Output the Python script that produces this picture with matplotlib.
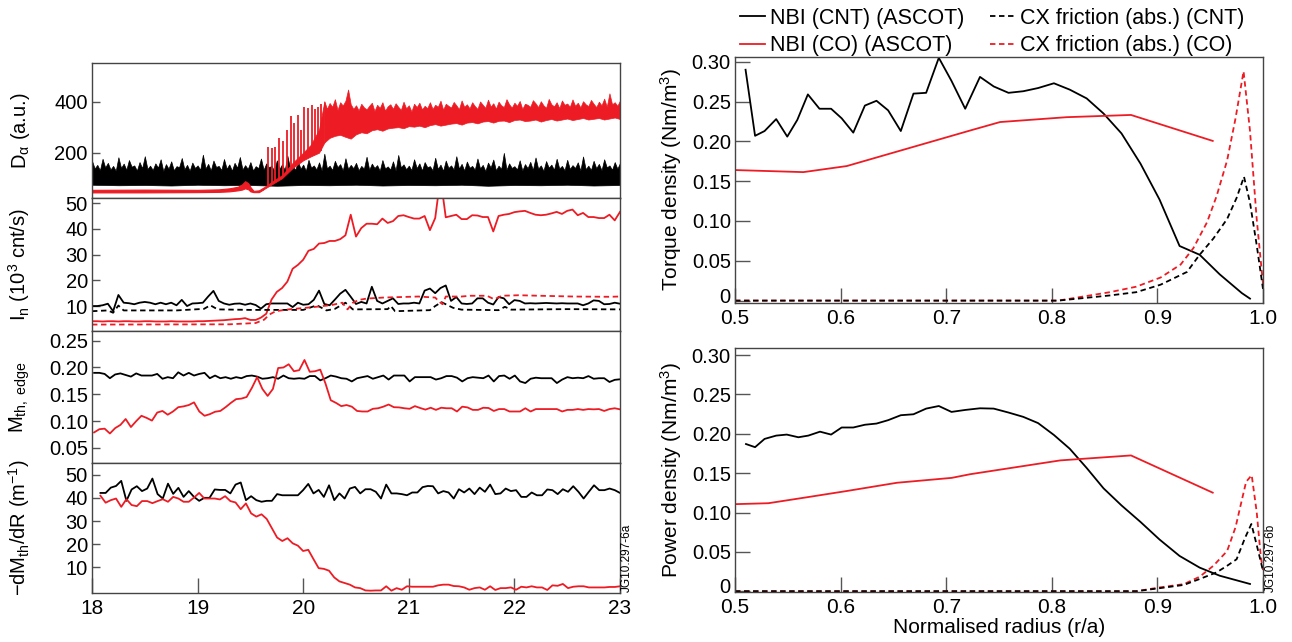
import matplotlib
matplotlib.use("Agg")
import matplotlib.pyplot as plt
import matplotlib.transforms as mtransforms
import numpy as np

plt.rcParams['font.family'] = ['Liberation Sans', 'DejaVu Sans']
plt.rcParams['mathtext.fontset'] = 'custom'
plt.rcParams['mathtext.rm'] = 'Liberation Sans'
plt.rcParams['mathtext.it'] = 'Liberation Sans:italic'

RED = '#ed1c24'
DASH = (0, (3, 2))

######### Left: time traces (s) #########
# D-alpha, black (CNT): dense noise band, upper edge sampled every 0.025 s
da_cnt_upper = [
    168, 138, 152, 131, 176, 142, 160, 134, 148, 129, 182, 140, 157, 133, 171, 145, 150, 130, 163, 139,
    186, 136, 149, 132, 158, 141, 174, 128, 155, 137, 166, 131, 147, 143, 179, 135, 152, 129, 161, 140,
    150, 133, 192, 138, 156, 130, 169, 144, 148, 132, 175, 137, 154, 129, 160, 141, 183, 134, 151, 136,
    163, 130, 147, 139, 177, 133, 158, 142, 149, 128, 170, 136, 155, 131, 188, 140, 146, 133, 165, 137,
    153, 129, 172, 141, 150, 134, 162, 130, 196, 138, 149, 132, 168, 143, 155, 130, 178, 136, 152, 139,
    160, 131, 148, 137, 184, 133, 157, 140, 151, 129, 171, 138, 146, 134, 166, 130, 191, 142, 154, 135,
    149, 132, 174, 139, 158, 130, 163, 143, 147, 131, 180, 136, 153, 129, 169, 140, 150, 134, 186, 137,
    156, 130, 165, 141, 148, 133, 177, 138, 152, 128, 161, 142, 173, 131, 149, 136, 199, 133, 158, 140,
    147, 134, 170, 130, 155, 139, 164, 132, 181, 137, 150, 129, 167, 141, 153, 133, 176, 138, 148, 131,
    172, 136, 151, 140, 162, 130, 185, 135, 149, 132, 168, 139, 156, 131, 174, 142, 150, 133, 163, 137,
    160]
da_cnt_lower = [74, 72, 73, 71, 74, 72, 73, 70, 73, 72, 74, 71, 73, 72, 74, 70, 73, 72, 74, 71, 73]

# D-alpha, red (CO): L-mode part
da_co_pre_t = [18.0, 18.5, 19.0, 19.2, 19.3, 19.38, 19.42, 19.45, 19.48, 19.5, 19.53, 19.58, 19.62]
da_co_pre_lo = [44, 44, 45, 46, 48, 52, 55, 60, 56, 48, 45, 45, 55]
da_co_pre_hi = [54, 55, 54, 56, 60, 66, 75, 88, 80, 65, 50, 52, 62]
# transition, 19.62 - 20.2 s
da_co_t = [19.62, 19.7, 19.8, 19.9, 20.0, 20.07, 20.15, 20.2]
da_co_lo = [55, 75, 100, 140, 170, 185, 200, 240]
da_co_band_hi = [62, 85, 112, 160, 200, 230, 290, 400]
# H-mode band from 20.2 s: lower edge every 0.05 s, upper edge every 0.025 s
da_co_lower = [240, 258, 266, 270, 262, 255, 272, 280, 276, 288,
               292, 286, 295, 298, 300, 296, 304, 302, 306, 300,
               308, 312, 306, 310, 314, 316, 310, 318, 320, 315,
               322, 324, 318, 325, 326, 320, 328, 330, 324, 326,
               330, 322, 328, 332, 326, 330, 334, 328, 332, 336,
               330, 333, 336, 330, 334, 338, 332]
da_co_upper = [
    402, 372, 395, 380, 410, 368, 398, 385, 404, 448, 390, 372, 386, 366, 392, 378, 370, 384, 396, 364,
    388, 376, 398, 365, 382, 390, 372, 394, 380, 368, 400, 374, 386, 362, 392, 379, 396, 370, 384, 375,
    398, 372, 388, 380, 404, 369, 392, 384, 377, 399, 386, 371, 405, 380, 390, 374, 398, 383, 372, 401,
    388, 376, 408, 381, 394, 373, 400, 386, 379, 410, 390, 377, 396, 384, 403, 372, 392, 388, 380, 406,
    394, 379, 402, 386, 376, 411, 390, 382, 398, 375, 405, 388, 393, 380, 409, 384, 396, 378, 402, 390,
    383, 407, 392, 379, 400, 386, 412, 381, 433, 390, 398, 384, 405]
# ELM spikes during the transition
elm_t = [19.67, 19.70, 19.73, 19.77, 19.81, 19.85, 19.88, 19.91, 19.95, 19.98, 20.01, 20.05,
         20.08, 20.11, 20.14, 20.17]
elm_base = [72, 78, 85, 95, 105, 118, 130, 140, 155, 165, 172, 180, 188, 195, 200, 205]
elm_peak = [223, 219, 222, 258, 245, 290, 345, 315, 348, 290, 380, 376, 386, 370, 378, 392]

# neutron rate (10^3 cnt/s), every 0.05 s from 18 s
in_cnt = [10.0, 10.0, 10.3, 10.9, 8.0, 14.3, 11.3, 11.1, 10.7, 11.3,
          11.6, 11.3, 10.7, 11.3, 10.7, 11.3, 10.3, 12.4, 10.0, 11.0,
          11.1, 11.3, 13.7, 15.9, 12.0, 11.0, 10.5, 10.9, 11.0, 10.5,
          11.0, 10.4, 9.0, 10.7, 11.0, 11.0, 11.0, 11.0, 9.6, 11.3,
          10.5, 10.7, 12.4, 16.0, 10.8, 10.3, 12.5, 14.8, 16.3, 13.6,
          10.8, 11.6, 11.0, 17.5, 12.0, 11.0, 12.0, 13.0, 10.8, 11.0,
          11.0, 11.3, 11.0, 16.0, 16.8, 15.0, 17.0, 18.0, 12.0, 13.5,
          11.0, 10.8, 11.0, 13.0, 13.0, 11.3, 10.6, 13.5, 13.0, 10.7,
          12.3, 12.0, 11.0, 11.1, 11.0, 11.1, 11.2, 11.1, 11.0, 11.1,
          11.0, 11.0, 11.0, 10.3, 11.0, 12.2, 12.0, 10.7, 10.8, 11.3,
          10.9]
in_co = [4.1, 4.1, 4.0, 4.1, 4.1, 4.0, 4.1, 4.1, 4.0, 4.0,
         4.1, 4.1, 4.0, 4.0, 4.0, 4.1, 4.0, 4.0, 4.0, 4.0,
         4.1, 4.1, 4.2, 4.3, 4.4, 4.5, 4.7, 4.9, 5.0, 5.3,
         4.6, 4.6, 5.5, 7.0, 12.5, 15.5, 17.0, 19.5, 24.5, 26.0,
         28.0, 31.5, 32.2, 34.3, 34.5, 35.3, 35.3, 36.0, 37.5, 45.5,
         37.0, 40.3, 42.0, 42.0, 41.8, 44.0, 42.3, 43.0, 45.0, 45.3,
         44.6, 44.0, 44.0, 45.0, 39.5, 44.2, 60.0, 44.5, 45.0, 45.5,
         43.8, 43.8, 45.3, 45.2, 44.6, 44.6, 39.0, 45.0, 45.5, 45.8,
         46.5, 46.8, 47.0, 46.2, 45.5, 45.3, 45.5, 46.0, 46.6, 45.8,
         47.0, 47.5, 45.3, 46.2, 44.6, 44.6, 44.2, 44.2, 45.5, 43.3,
         46.6]
in_cx_cnt_t = [18.0, 18.15, 18.2, 18.25, 18.3, 18.5, 18.8, 19.06, 19.12, 19.19, 19.5, 20.0,
               20.13, 20.22, 20.3, 20.4, 20.47, 20.8, 20.83, 20.87, 21.2, 21.25, 21.31, 21.42,
               21.5, 21.85, 21.91, 21.97, 22.5, 23.0]
in_cx_cnt = [8.0, 8.3, 7.4, 10.2, 8.3, 8.3, 8.3, 8.9, 10.3, 8.7, 8.5, 8.5,
             10.3, 8.3, 8.9, 11.3, 8.7, 8.8, 10.0, 8.0, 8.4, 10.0, 11.5, 9.3,
             8.6, 8.4, 9.7, 8.6, 8.8, 8.7]
in_cx_co_t = [18.0, 19.3, 19.55, 19.63, 19.68, 19.74, 19.86, 19.94, 20.1, 20.27, 20.37, 20.42,
              20.47, 20.53, 20.6, 20.76, 21.09, 21.25, 21.29, 21.32, 21.35, 21.5, 21.58, 21.74,
              21.81, 21.88, 22.04, 22.24, 22.56, 22.9, 23.0]
in_cx_co = [2.8, 2.9, 3.4, 4.7, 6.7, 8.0, 8.7, 9.0, 9.6, 10.4, 11.3, 8.7,
            11.3, 12.4, 12.9, 13.3, 13.7, 13.3, 11.6, 10.7, 13.7, 13.7, 14.0, 14.0,
            12.6, 14.0, 14.2, 14.0, 13.7, 13.6, 13.7]

# edge Mach number, every 0.05 s from 18 s
mth_cnt = [0.190, 0.190, 0.188, 0.180, 0.187, 0.189, 0.186, 0.183, 0.189, 0.185,
           0.185, 0.185, 0.188, 0.179, 0.182, 0.180, 0.191, 0.185, 0.190, 0.185,
           0.188, 0.190, 0.180, 0.185, 0.180, 0.182, 0.179, 0.182, 0.180, 0.184,
           0.185, 0.183, 0.179, 0.180, 0.182, 0.179, 0.185, 0.180, 0.179, 0.180,
           0.179, 0.184, 0.184, 0.176, 0.180, 0.185, 0.183, 0.180, 0.179, 0.174,
           0.180, 0.182, 0.184, 0.179, 0.182, 0.185, 0.1775, 0.185, 0.185, 0.185,
           0.174, 0.182, 0.182, 0.182, 0.182, 0.1775, 0.180, 0.184, 0.184, 0.181,
           0.174, 0.180, 0.182, 0.181, 0.180, 0.185, 0.174, 0.184, 0.185, 0.179,
           0.185, 0.174, 0.171, 0.179, 0.181, 0.180, 0.180, 0.180, 0.171, 0.1775,
           0.182, 0.180, 0.181, 0.180, 0.184, 0.179, 0.180, 0.180, 0.173, 0.177,
           0.178]
mth_co = [0.079, 0.085, 0.086, 0.077, 0.087, 0.093, 0.104, 0.089, 0.100, 0.110,
          0.106, 0.101, 0.116, 0.119, 0.112, 0.118, 0.126, 0.1275, 0.130, 0.135,
          0.118, 0.110, 0.113, 0.1175, 0.119, 0.126, 0.134, 0.141, 0.142, 0.145,
          0.162, 0.182, 0.160, 0.147, 0.160, 0.199, 0.200, 0.206, 0.193, 0.195,
          0.214, 0.192, 0.193, 0.196, 0.170, 0.139, 0.134, 0.128, 0.130, 0.127,
          0.119, 0.118, 0.118, 0.123, 0.124, 0.127, 0.131, 0.126, 0.1256, 0.124,
          0.123, 0.128, 0.1245, 0.1215, 0.125, 0.121, 0.125, 0.124, 0.124, 0.118,
          0.127, 0.1256, 0.121, 0.121, 0.125, 0.1245, 0.119, 0.1225, 0.1225, 0.118,
          0.118, 0.118, 0.124, 0.118, 0.1225, 0.1225, 0.1225, 0.1225, 0.1225, 0.118,
          0.121, 0.121, 0.1225, 0.121, 0.1225, 0.122, 0.1225, 0.119, 0.1225, 0.124,
          0.122]

# -dMth/dR (1/m), from 18.08 s to 23 s
dm_cnt = [42.1, 42.1, 44.4, 45.1, 47.3, 38.7, 43.6, 45.0, 42.9, 44.0,
          48.3, 41.6, 39.7, 46.1, 41.7, 44.3, 40.4, 42.9, 40.4, 38.7,
          40.0, 40.0, 43.6, 43.4, 43.4, 41.9, 45.7, 46.6, 39.0, 40.7,
          39.0, 38.3, 38.7, 38.7, 41.6, 41.1, 41.1, 41.1, 41.1, 43.3,
          46.0, 41.9, 43.4, 40.4, 45.4, 39.0, 41.9, 39.7, 44.0, 44.7,
          41.9, 43.7, 43.7, 42.6, 39.7, 45.7, 41.9, 41.9, 41.6, 41.1,
          42.3, 42.3, 44.6, 45.1, 45.0, 41.9, 42.9, 42.3, 39.7, 43.7,
          42.3, 44.0, 41.6, 44.4, 42.6, 45.7, 41.6, 41.9, 44.0, 42.9,
          43.3, 40.4, 40.4, 42.3, 41.1, 41.1, 43.6, 43.3, 41.6, 43.7,
          42.6, 45.0, 42.6, 39.7, 42.6, 45.4, 43.3, 43.3, 44.0, 43.3,
          42.1]
dm_co = [40.9, 37.9, 39.0, 39.7, 36.1, 39.4, 36.9, 36.4, 38.6, 38.6,
         37.7, 38.6, 39.4, 38.3, 40.4, 39.7, 38.3, 38.3, 40.1, 42.1,
         39.7, 39.7, 39.7, 39.3, 40.7, 38.6, 38.0, 35.1, 37.6, 33.3,
         31.9, 32.9, 30.9, 26.9, 22.9, 21.4, 22.6, 20.4, 19.4, 17.1,
         17.6, 13.6, 9.7, 9.4, 8.6, 5.7, 4.0, 3.3, 2.6, 1.4,
         1.1, 0.1, 0.0, 0.1, 0.1, 1.9, 0.0, 1.1, 0.4, 1.9,
         1.7, 1.7, 1.7, 1.7, 1.7, 2.3, 2.6, 2.6, 2.0, 1.9,
         1.4, 0.4, 1.1, 1.4, 0.4, 1.9, 0.3, 1.1, 1.1, 1.4,
         0.4, 1.7, 1.4, 1.9, 1.4, 1.4, 0.3, 2.3, 2.1, 2.9,
         1.1, 1.7, 1.9, 1.9, 1.4, 1.4, 1.4, 1.4, 1.6, 1.6,
         1.9]

######### Right: radial profiles #########
tq_cnt_r = [0.510, 0.519, 0.528, 0.539, 0.5495, 0.559, 0.569, 0.580, 0.591, 0.601, 0.612, 0.623,
            0.634, 0.645, 0.657, 0.669, 0.681, 0.693, 0.705, 0.718, 0.732, 0.745, 0.759, 0.773,
            0.787, 0.802, 0.817, 0.833, 0.849, 0.866, 0.884, 0.902, 0.921, 0.940, 0.959, 0.980,
            0.9877]
tq_cnt = [0.290, 0.207, 0.213, 0.228, 0.206, 0.227, 0.259, 0.241, 0.241, 0.229, 0.211, 0.245,
          0.251, 0.239, 0.213, 0.260, 0.261, 0.305, 0.276, 0.241, 0.281, 0.269, 0.261, 0.263,
          0.267, 0.273, 0.265, 0.254, 0.235, 0.210, 0.172, 0.127, 0.0686, 0.0576, 0.033, 0.0094,
          0.0025]
tq_co_r = [0.5, 0.5647, 0.6058, 0.7225, 0.751, 0.814, 0.875, 0.9524]
tq_co = [0.164, 0.1614, 0.169, 0.2136, 0.2243, 0.2304, 0.2332, 0.2006]
tq_cx_cnt_r = [0.5, 0.806, 0.855, 0.88, 0.903, 0.928, 0.94, 0.953, 0.966, 0.975, 0.982, 0.9877,
               0.994, 1.0]
tq_cx_cnt = [0.0, 0.0, 0.0065, 0.0106, 0.02, 0.036, 0.0576, 0.078, 0.1025, 0.129, 0.1556, 0.123,
             0.07, 0.0147]
tq_cx_co_r = [0.5, 0.806, 0.855, 0.88, 0.903, 0.922, 0.934, 0.947, 0.956, 0.966, 0.974, 0.9816,
              0.9877, 0.994, 1.0]
tq_cx_co = [0.0, 0.0, 0.0106, 0.0175, 0.029, 0.0453, 0.0658, 0.0984, 0.131, 0.176, 0.229, 0.288,
            0.213, 0.103, 0.021]

pw_cnt_r = [0.5104, 0.519, 0.528, 0.539, 0.549, 0.56, 0.5694, 0.5805, 0.591, 0.601, 0.612, 0.623,
            0.634, 0.645, 0.657, 0.669, 0.681, 0.693, 0.705, 0.718, 0.732, 0.745, 0.759, 0.773,
            0.787, 0.802, 0.817, 0.833, 0.849, 0.866, 0.884, 0.902, 0.921, 0.940, 0.959, 0.9877]
pw_cnt = [0.187, 0.183, 0.1935, 0.1977, 0.199, 0.1956, 0.1977, 0.2027, 0.199, 0.208, 0.208, 0.2115,
          0.213, 0.2173, 0.2236, 0.2248, 0.232, 0.2353, 0.2278, 0.2303, 0.2324, 0.232, 0.227, 0.2215,
          0.2136, 0.1985, 0.181, 0.1566, 0.1307, 0.109, 0.088, 0.0657, 0.0448, 0.030, 0.0197, 0.0092]
pw_co_r = [0.5, 0.5316, 0.5678, 0.6058, 0.6534, 0.7052, 0.7225, 0.808, 0.875, 0.9524]
pw_co = [0.1106, 0.1118, 0.1193, 0.1273, 0.1378, 0.144, 0.1486, 0.1662, 0.1725, 0.1252]
pw_cx_cnt_r = [0.5, 0.88, 0.903, 0.925, 0.94, 0.956, 0.966, 0.975, 0.983, 0.989, 0.994, 1.0]
pw_cx_cnt = [0.0, 0.0, 0.004, 0.008, 0.0155, 0.0239, 0.0323, 0.0406, 0.0678, 0.0854, 0.059, 0.026]
pw_cx_co_r = [0.5, 0.88, 0.903, 0.925, 0.94, 0.953, 0.966, 0.974, 0.98, 0.984, 0.9893, 0.994,
              0.998, 1.0]
pw_cx_co = [0.0, 0.0, 0.005, 0.009, 0.0184, 0.0323, 0.051, 0.0813, 0.116, 0.139, 0.1474, 0.101,
            0.0427, 0.027]

legend_labels = ['NBI (CNT) (ASCOT)', 'NBI (CO) (ASCOT)',
                 'CX friction (abs.) (CNT)', 'CX friction (abs.) (CO)']


def style_axes(ax, ylen, xlen, ysize, xsize):
    for s in ax.spines.values():
        s.set_color('#444444')
        s.set_linewidth(1.0)
    ax.tick_params(axis='y', direction='in', length=ylen, width=1, color='#555555',
                   labelsize=ysize, pad=3)
    ax.tick_params(axis='x', direction='in', length=xlen, width=1, color='#555555',
                   labelsize=xsize, pad=4)


def grid(start, end, values):
    return np.linspace(start, end, len(values))


def plot_left(fig):
    h = 642.0
    rows = [(63, 198), (198, 331), (331, 463), (463, 593)]
    axes = [fig.add_axes([92 / 1292, 1 - b / h, 528 / 1292, (b - t) / h]) for t, b in rows]
    ax1, ax2, ax3, ax4 = axes
    lw = 1.3

    # D-alpha
    cnt_t = grid(18, 23, da_cnt_upper)
    ax1.fill_between(cnt_t, np.interp(cnt_t, grid(18, 23, da_cnt_lower), da_cnt_lower),
                     da_cnt_upper, color='black', lw=0.5)
    ax1.fill_between(da_co_pre_t, da_co_pre_lo, da_co_pre_hi, color=RED, lw=0.8)
    ax1.fill_between(da_co_t, da_co_lo, da_co_band_hi, color=RED, lw=0.6)
    up_t = grid(20.2, 23.0, da_co_upper)
    ax1.fill_between(up_t, np.interp(up_t, grid(20.2, 23.0, da_co_lower), da_co_lower),
                     da_co_upper, color=RED, lw=0.5)
    ax1.vlines(elm_t, elm_base, elm_peak, color=RED, lw=1.3)
    ax1.set_ylim(22, 552)
    ax1.set_yticks([200, 400])
    ax1.set_ylabel(r'D$_\mathrm{\alpha}$ (a.u.)', fontsize=14.5)

    # neutron rate
    ax2.plot(grid(18, 23, in_cnt), in_cnt, color='black', lw=lw)
    ax2.plot(grid(18, 23, in_co), in_co, color=RED, lw=lw)
    ax2.plot(in_cx_cnt_t, in_cx_cnt, color='black', lw=lw, ls=DASH)
    ax2.plot(in_cx_co_t, in_cx_co, color=RED, lw=lw, ls=DASH)
    ax2.set_ylim(0.3, 52)
    ax2.set_yticks([10, 20, 30, 40, 50])
    ax2.set_ylabel(r'I$_\mathrm{n}$ (10$^\mathrm{3}$ cnt/s)', fontsize=14.5)

    # edge Mach number
    ax3.plot(grid(18.02, 23, mth_cnt), mth_cnt, color='black', lw=lw)
    ax3.plot(grid(18.02, 23, mth_co), mth_co, color=RED, lw=lw)
    ax3.set_ylim(0.022, 0.268)
    ax3.set_yticks([0.05, 0.10, 0.15, 0.20, 0.25])
    ax3.set_yticklabels(['0.05', '0.10', '0.15', '0.20', '0.25'])
    ax3.set_ylabel(r'M$_\mathrm{th,\ edge}$', fontsize=14.5)

    # gradient
    ax4.plot(grid(18.08, 23, dm_cnt), dm_cnt, color='black', lw=lw)
    ax4.plot(grid(18.08, 23, dm_co), dm_co, color=RED, lw=lw)
    ax4.set_ylim(-1, 55)
    ax4.set_yticks([10, 20, 30, 40, 50])
    ax4.set_ylabel(r'$-$dM$_\mathrm{th}$/dR (m$^\mathrm{-1}$)', fontsize=14.5)

    for ax in axes:
        ax.set_xlim(18, 23)
        ax.set_xticks([18, 19, 20, 21, 22, 23])
        style_axes(ax, 6, 11, 14.5, 15)
        ax.yaxis.set_label_coords(-0.114, 0.5)
        if ax is not ax4:
            ax.tick_params(axis='x', length=0, labelbottom=False)

    fig.text(627 / 1292, 1 - 592 / h, 'JG10.297-6a', rotation=90, fontsize=8.5,
             ha='center', va='bottom')


def plot_right(fig):
    h = 642.0
    axt = fig.add_axes([735 / 1292, 1 - 303 / h, 528 / 1292, 246 / h])
    axb = fig.add_axes([735 / 1292, 1 - 592 / h, 528 / 1292, 244 / h])
    lw = 1.3

    l1, = axt.plot(tq_cnt_r, tq_cnt, color='black', lw=lw)
    l2, = axt.plot(tq_co_r, tq_co, color=RED, lw=lw)
    l4, = axt.plot(tq_cx_co_r, tq_cx_co, color=RED, lw=lw, ls=DASH)
    l3, = axt.plot(tq_cx_cnt_r, tq_cx_cnt, color='black', lw=lw, ls=DASH)
    axt.set_ylim(-0.003, 0.306)
    axt.set_ylabel('Torque density (Nm/m$^\\mathrm{3}$)', fontsize=15)

    axb.plot(pw_cnt_r, pw_cnt, color='black', lw=lw)
    axb.plot(pw_co_r, pw_co, color=RED, lw=lw)
    axb.plot(pw_cx_co_r, pw_cx_co, color=RED, lw=lw, ls=DASH)
    axb.plot(pw_cx_cnt_r, pw_cx_cnt, color='black', lw=lw, ls=DASH)
    axb.set_ylim(-0.001, 0.309)
    axb.set_ylabel('Power density (Nm/m$^\\mathrm{3}$)', fontsize=15)
    axb.set_xlabel('Normalised radius (r/a)', fontsize=15, labelpad=1)

    yt = [0, 0.05, 0.10, 0.15, 0.20, 0.25, 0.30]
    lift = mtransforms.ScaledTranslation(0, 4 / 72, fig.dpi_scale_trans)
    for ax in (axt, axb):
        ax.set_xlim(0.5, 1.0)
        ax.set_xticks([0.5, 0.6, 0.7, 0.8, 0.9, 1.0])
        ax.set_xticklabels(['0.5', '0.6', '0.7', '0.8', '0.9', '1.0'])
        ax.set_yticks(yt)
        ax.set_yticklabels(['0', '0.05', '0.10', '0.15', '0.20', '0.25', '0.30'])
        style_axes(ax, 11, 11, 14.5, 15)
        ax.yaxis.set_label_coords(-0.097, 0.5)
        zero = ax.get_yticklabels()[0]
        zero.set_transform(zero.get_transform() + lift)

    fig.legend([l1, l2, l3, l4], legend_labels, ncol=2, loc='upper left',
               bbox_to_anchor=(740 / 1292, 1 - 8 / h), frameon=False, fontsize=15.5,
               handlelength=1.15, handletextpad=0.25, columnspacing=1.2, borderpad=0,
               borderaxespad=0, labelspacing=0.3)

    fig.text(1271 / 1292, 1 - 592 / h, 'JG10.297-6b', rotation=90, fontsize=8.5,
             ha='center', va='bottom')


def main():
    fig = plt.figure(figsize=(12.92, 6.42), dpi=100)
    plot_left(fig)
    plot_right(fig)
    fig.savefig('out.png', dpi=100)


if __name__ == '__main__':
    main()
